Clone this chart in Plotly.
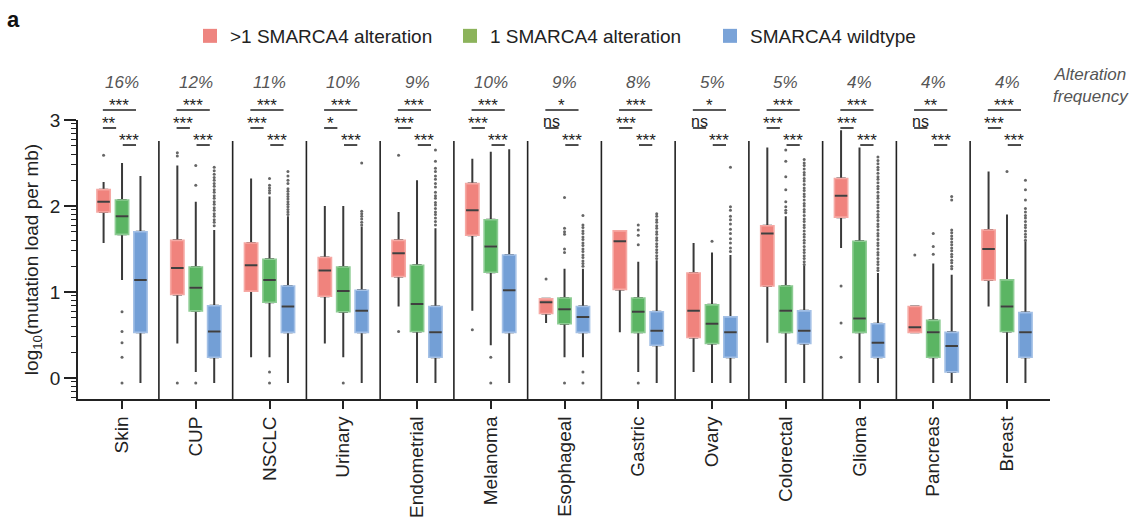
import numpy as np
import plotly.graph_objects as go

# ---------------- data ----------------
categories = ["Skin", "CUP", "NSCLC", "Urinary", "Endometrial", "Melanoma", "Esophageal",
              "Gastric", "Ovary", "Colorectal", "Glioma", "Pancreas", "Breast"]
alteration_frequency = ["16%", "12%", "11%", "10%", "9%", "10%", "9%", "8%", "5%", "5%", "4%", "4%", "4%"]
series_names = [">1 SMARCA4 alteration", "1 SMARCA4 alteration", "SMARCA4 wildtype"]

# >1 SMARCA4 alteration
multi_low = [1.57, 0.40, 0.24, 0.40, 0.83, 0.78, 0.64, 0.53, 0.07, 0.41, 1.51, 0.53, 0.83]
multi_q1 = [1.93, 0.97, 1.01, 0.95, 1.18, 1.66, 0.75, 1.03, 0.47, 1.07, 1.87, 0.53, 1.14]
multi_median = [2.05, 1.28, 1.31, 1.25, 1.45, 1.95, 0.88, 1.59, 0.78, 1.68, 2.12, 0.59, 1.50]
multi_q3 = [2.19, 1.60, 1.57, 1.40, 1.60, 2.26, 0.92, 1.71, 1.22, 1.77, 2.32, 0.83, 1.72]
multi_high = [2.28, 2.47, 2.32, 2.00, 1.93, 2.55, 0.93, 1.72, 1.57, 2.68, 2.88, 0.83, 2.40]
multi_outliers = [[2.59], [2.62, 2.58, -0.06], [], [], [2.59, 0.54], [0.56], [1.15], [], [], [],
                  [1.07, 0.64, 0.24], [1.43], []]

# 1 SMARCA4 alteration
one_low = [1.14, 0.07, 0.24, 0.24, -0.06, 0.38, 0.24, 0.07, -0.06, -0.06, -0.06, -0.06, -0.06]
one_q1 = [1.67, 0.78, 0.88, 0.77, 0.54, 1.23, 0.63, 0.53, 0.40, 0.53, 0.53, 0.24, 0.54]
one_median = [1.88, 1.05, 1.14, 1.01, 0.86, 1.53, 0.80, 0.77, 0.63, 0.78, 0.69, 0.53, 0.83]
one_q3 = [2.07, 1.29, 1.38, 1.29, 1.31, 1.84, 0.93, 0.93, 0.85, 1.07, 1.59, 0.67, 1.14]
one_high = [2.50, 2.05, 2.11, 2.00, 2.30, 2.63, 1.27, 1.35, 1.46, 1.88, 2.68, 1.33, 1.90]
one_outliers = [[0.77, 0.54, 0.41, 0.24, -0.06],
                [2.47, 2.24, -0.06],
                [2.32, 2.24, 2.21, 2.18, 2.15, 0.07, -0.06],
                [-0.06],
                [],
                [0.24, -0.06],
                [2.10, 1.74, 1.70, 1.67, 1.50, 1.46, -0.06],
                [1.78, 1.72, 1.66, 1.55, -0.06],
                [1.59],
                [2.65, 2.52, 2.34, 2.19, 2.05, 1.99, 1.95, 1.92],
                [],
                [1.68, 1.53, 1.44],
                [2.40]]

# SMARCA4 wildtype
wt_low = [-0.06, -0.06, -0.06, -0.06, -0.06, -0.06, 0.24, -0.06, -0.06, -0.06, -0.06, -0.06, -0.06]
wt_q1 = [0.53, 0.24, 0.53, 0.53, 0.24, 0.53, 0.53, 0.38, 0.24, 0.40, 0.24, 0.07, 0.24]
wt_median = [1.14, 0.54, 0.83, 0.78, 0.53, 1.02, 0.71, 0.55, 0.53, 0.55, 0.41, 0.37, 0.53]
wt_q3 = [1.70, 0.84, 1.07, 1.02, 0.83, 1.43, 0.83, 0.77, 0.71, 0.78, 0.63, 0.53, 0.76]
wt_high = [2.35, 1.72, 1.88, 1.76, 1.74, 2.66, 1.27, 1.37, 1.43, 1.31, 1.22, 1.20, 1.59]
wt_outliers = [[],
               [2.45, 2.41, 2.37, 2.33, 2.30, 2.26, 2.23, 2.19, 2.16, 2.12, 2.09, 2.05, 2.02, 1.98,
                1.95, 1.91, 1.88, 1.84, 1.81, 1.77],
               [2.40, 2.35, 2.30, 2.26, 2.20, 2.17, 2.14, 2.11, 2.08, 2.05, 2.02, 1.99, 1.96, 1.93, 1.90],
               [2.50, 1.94, 1.91, 1.88, 1.85, 1.81, 1.78],
               [2.65, 2.52, 2.44, 2.40, 2.35, 2.31, 2.26, 2.22, 2.16, 2.12, 2.09, 2.04, 2.01, 1.97,
                1.93, 1.90, 1.86, 1.82, 1.78],
               [],
               [1.89, 1.78, 1.75, 1.71, 1.68, 1.64, 1.61, 1.57, 1.54, 1.50, 1.47, 1.43, 1.40, 1.36,
                1.33, 1.30, 0.07, -0.06],
               [1.91, 1.88, 1.84, 1.81, 1.77, 1.74, 1.70, 1.67, 1.63, 1.60, 1.56, 1.53, 1.49, 1.46,
                1.42, 1.39],
               [2.45, 1.99, 1.95, 1.88, 1.84, 1.79, 1.73, 1.68, 1.62, 1.57, 1.51, 1.47],
               [2.54, 2.50, 2.47, 2.43, 2.39, 2.36, 2.32, 2.29, 2.25, 2.21, 2.18, 2.14, 2.11, 2.07,
                2.03, 2.00, 1.96, 1.93, 1.89, 1.85, 1.82, 1.78, 1.75, 1.71, 1.67, 1.64, 1.60, 1.57,
                1.53, 1.49, 1.46, 1.42, 1.39, 1.35, 1.32],
               [2.57, 2.53, 2.49, 2.45, 2.42, 2.38, 2.34, 2.31, 2.27, 2.23, 2.20, 2.16, 2.12, 2.09,
                2.05, 2.01, 1.98, 1.94, 1.90, 1.87, 1.83, 1.79, 1.76, 1.72, 1.68, 1.65, 1.61, 1.57,
                1.54, 1.50, 1.46, 1.43, 1.39, 1.35, 1.32, 1.28, 1.25],
               [2.11, 2.07, 1.72, 1.69, 1.65, 1.62, 1.58, 1.55, 1.51, 1.48, 1.44, 1.41, 1.37, 1.34,
                1.30, 1.27],
               [2.30, 2.19, 2.07, 1.97, 1.93, 1.89, 1.86, 1.82, 1.78, 1.75, 1.71, 1.67, 1.64, 1.60]]

# significance labels
sig_multi_vs_wt = ["***", "***", "***", "***", "***", "***", "*", "***", "*", "***", "***", "**", "***"]
sig_multi_vs_one = ["**", "***", "***", "*", "***", "***", "ns", "***", "ns", "***", "***", "ns", "***"]
sig_one_vs_wt = ["***"] * 13

# ---------------- styling ----------------
FONT = "Liberation Sans, Arial, Helvetica, sans-serif"
INK = "#222222"
WHISKER = "#3a3a3a"
fills = ["#F0837D", "#5BB563", "#739FD6"]
edges = ["#F6A9A4", "#8DCC93", "#A3C0E6"]
legend_colors = ["#EE8580", "#8CB35B", "#7AA3D8"]
offsets = [-0.25, 0.0, 0.25]
BOX_W = 0.18

W, H = 1131, 517
ML, MR, MT, MB = 78, 81, 120, 118
PW, PH = W - ML - MR, H - MT - MB

Y_MIN, Y_MAX = -0.245, 3.0
X_MIN, X_MAX = -0.597, 12.583


def to_paper(v):
    return (v - Y_MIN) / (Y_MAX - Y_MIN)


def px_x(px):
    return (px - ML) / PW


def px_y(py):  # py measured from the top of the image
    return (H - MB - py) / PH


stats = [
    (multi_low, multi_q1, multi_median, multi_q3, multi_high, multi_outliers),
    (one_low, one_q1, one_median, one_q3, one_high, one_outliers),
    (wt_low, wt_q1, wt_median, wt_q3, wt_high, wt_outliers),
]

xpos = np.arange(len(categories))
fig = go.Figure()

for k, (lo, q1, med, q3, hi, outs) in enumerate(stats):
    x = xpos + offsets[k]
    # whiskers (narrow box hidden under the body)
    fig.add_trace(go.Box(x=x, q1=q1, median=med, q3=q3, lowerfence=lo, upperfence=hi,
                         orientation="v", width=0.10, whiskerwidth=0, boxpoints=False,
                         line=dict(color=WHISKER, width=2), fillcolor="rgba(0,0,0,0)",
                         showlegend=False, hoverinfo="skip"))
    # coloured body
    fig.add_trace(go.Box(x=x, q1=q1, median=med, q3=q3, lowerfence=q1, upperfence=q3,
                         orientation="v", width=BOX_W, whiskerwidth=0, boxpoints=False,
                         line=dict(color=edges[k], width=1.6), fillcolor=fills[k],
                         showlegend=False, hoverinfo="skip"))
    # median line
    fig.add_trace(go.Box(x=x, q1=med, median=med, q3=med, lowerfence=med, upperfence=med,
                         orientation="v", width=BOX_W - 0.01, whiskerwidth=0, boxpoints=False,
                         line=dict(color="#3f3f3f", width=2), fillcolor="rgba(0,0,0,0)",
                         showlegend=False, hoverinfo="skip"))
    # outliers
    ox, oy = [], []
    for i, vals in enumerate(outs):
        ox += [xpos[i] + offsets[k]] * len(vals)
        oy += vals
    fig.add_trace(go.Scatter(x=ox, y=oy, mode="markers",
                             marker=dict(size=3, color="#666666"),
                             showlegend=False, hoverinfo="skip"))

# legend entries
for k, name in enumerate(series_names):
    fig.add_trace(go.Scatter(x=[None], y=[None], mode="markers", name=name,
                             marker=dict(symbol="square", size=14, color=legend_colors[k])))

shapes = []
annotations = []

# group separators
for i in range(len(categories) - 1):
    shapes.append(dict(type="line", xref="x", yref="y", x0=i + 0.5, x1=i + 0.5,
                       y0=Y_MIN, y1=2.756, line=dict(color=INK, width=1.6)))

# significance brackets
levels = [3.116, 2.907, 2.709]
spans = [(-0.26, 0.19), (-0.26, -0.08), (0.01, 0.19)]
for i in range(len(categories)):
    for lev, (a, b), labels in zip(levels, spans, [sig_multi_vs_wt, sig_multi_vs_one, sig_one_vs_wt]):
        shapes.append(dict(type="line", xref="x", yref="paper", x0=i + a, x1=i + b,
                           y0=to_paper(lev), y1=to_paper(lev), line=dict(color=INK, width=1.6)))
        lab = labels[i]
        if lab == "ns":
            annotations.append(dict(x=i + (a + b) / 2, y=to_paper(lev), xref="x", yref="paper",
                                    text=lab, showarrow=False, yanchor="bottom", yshift=-4,
                                    font=dict(size=16, color=INK)))
        else:
            annotations.append(dict(x=i + (a + b) / 2, y=to_paper(lev), xref="x", yref="paper",
                                    text=lab, showarrow=False, yanchor="bottom", yshift=-7,
                                    font=dict(size=17, color=INK)))
    # alteration frequency
    annotations.append(dict(x=i, y=px_y(82), xref="x", yref="paper",
                            text="<i>" + alteration_frequency[i] + "</i>", showarrow=False,
                            yanchor="middle", font=dict(size=17, color="#555555")))

annotations.append(dict(x=px_x(1091), y=px_y(85), xref="paper", yref="paper",
                        text="<i>Alteration<br>frequency</i>", showarrow=False, xanchor="center",
                        yanchor="middle", font=dict(size=17, color="#555555")))
annotations.append(dict(x=px_x(5), y=px_y(20), xref="paper", yref="paper", text="<b>a</b>",
                        showarrow=False, xanchor="left", yanchor="middle",
                        font=dict(size=22, color="#111111")))

minor_vals = [np.log10(m * 10.0 ** e) for e in range(-1, 3) for m in range(2, 10)]
minor_vals = [v for v in minor_vals if Y_MIN <= v <= Y_MAX]

fig.update_layout(
    width=W, height=H,
    margin=dict(l=ML, r=MR, t=MT, b=MB),
    plot_bgcolor="white", paper_bgcolor="white",
    boxmode="overlay",
    font=dict(family=FONT, size=19, color=INK),
    shapes=shapes, annotations=annotations,
    legend=dict(orientation="h", x=px_x(190), xanchor="left", y=px_y(36), yanchor="middle",
                entrywidth=215, entrywidthmode="pixels", font=dict(size=19, color=INK),
                bgcolor="rgba(0,0,0,0)", itemclick=False),
)
fig.update_xaxes(range=[X_MIN, X_MAX], tickmode="array", tickvals=xpos, ticktext=categories,
                 tickangle=-90, ticks="outside", ticklen=8, tickwidth=1.6, tickcolor=INK,
                 showline=True, linecolor=INK, linewidth=1.8, showgrid=False, zeroline=False,
                 automargin=False, tickfont=dict(size=19, color=INK))
fig.update_yaxes(range=[Y_MIN, Y_MAX], tickmode="array", tickvals=[0, 1, 2, 3],
                 ticks="outside", ticklen=12, tickwidth=1.6, tickcolor=INK,
                 showline=True, linecolor=INK, linewidth=1.8, showgrid=False, zeroline=False,
                 automargin=False, tickfont=dict(size=19, color=INK),
                 minor=dict(tickmode="array", tickvals=minor_vals, ticks="outside", ticklen=5,
                            tickwidth=1.2, tickcolor=INK, showgrid=False),
                 title=dict(text="log<sub>10</sub>(mutation load per mb)", font=dict(size=19, color=INK),
                            standoff=6))

fig.write_html("out.html")
